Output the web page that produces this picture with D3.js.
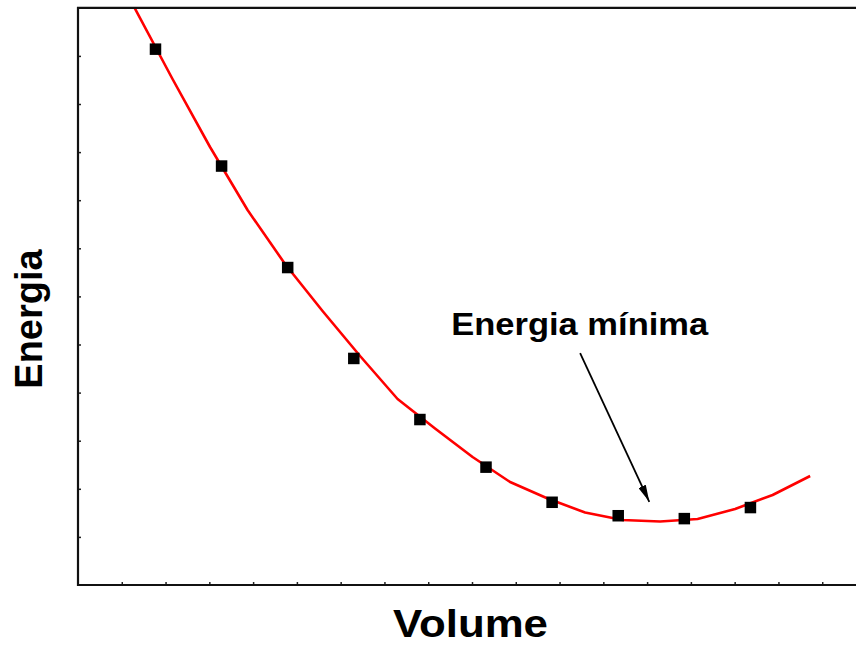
<!DOCTYPE html>
<html>
<head>
<meta charset="utf-8">
<script src="https://cdn.jsdelivr.net/npm/d3@7"></script>
<style>
  html, body { margin: 0; padding: 0; background: #fff; }
  svg { display: block; }
  text { font-family: "Liberation Sans", Arial, Helvetica, sans-serif; font-weight: bold; fill: #000; }
</style>
</head>
<body>
<svg id="chart" width="856" height="648"></svg>
<script>
// Computed energies at each cell volume (arbitrary units)
const volumes  = [1.77, 3.28, 4.79, 6.30, 7.81, 9.32, 10.83, 12.34, 13.85, 15.36];
const energies = [11.14, 8.71, 6.60, 4.71, 3.44, 2.45, 1.72, 1.44, 1.38, 1.61];

// Fitted equation-of-state curve, sampled
const fitVolumes  = [1.245, 2.159, 3.016, 3.873, 4.729, 5.586, 6.443, 7.300, 8.156, 9.013,
                     9.870, 10.727, 11.583, 12.440, 13.297, 14.153, 15.010, 15.867, 16.724];
const fitEnergies = [12.08, 10.52, 9.106, 7.796, 6.674, 5.697, 4.761, 3.867, 3.254, 2.661,
                     2.141, 1.798, 1.507, 1.351, 1.320, 1.372, 1.580, 1.871, 2.266];

// Axis extents and tick positions (unlabelled ticks)
const xDomain = [0, 18];
const yDomain = [0, 12];
const xTicks = d3.range(1, 18);
const yTicks = d3.range(1, 12);

// Annotation: label and arrow pointing at the minimum
const minLabel = "Energia mínima";
const labelPos = [11.46, 5.2];
const arrowFrom = [11.47, 4.82];
const arrowTo   = [13.05, 1.73];

const svg = d3.select("#chart");
const plotLeft = 78, plotTop = 7.8, plotBottom = 585, plotRight = 866;

const x = d3.scaleLinear().domain(xDomain).range([plotLeft, plotRight]);
const y = d3.scaleLinear().domain(yDomain).range([plotBottom, plotTop]);

const defs = svg.append("defs");
defs.append("clipPath").attr("id", "plotClip")
  .append("rect").attr("x", plotLeft).attr("y", plotTop)
  .attr("width", plotRight - plotLeft).attr("height", plotBottom - plotTop);

defs.append("marker")
  .attr("id", "arrowHead")
  .attr("viewBox", "0 0 17 8")
  .attr("refX", 17).attr("refY", 4)
  .attr("markerUnits", "userSpaceOnUse")
  .attr("markerWidth", 17).attr("markerHeight", 8)
  .attr("orient", "auto")
  .append("path").attr("d", "M0,0 L17,4 L0,8 Z").attr("fill", "#000");

// Ticks, pointing inward
const xAxis = d3.axisBottom(x).tickValues(xTicks).tickSize(-3).tickFormat("");
const yAxis = d3.axisLeft(y).tickValues(yTicks).tickSize(-3).tickFormat("");

const gx = svg.append("g").attr("transform", `translate(0,${plotBottom})`).call(xAxis);
gx.select(".domain").remove();
gx.selectAll(".tick line").attr("stroke", "#222").attr("stroke-width", 1.5);

const gy = svg.append("g").attr("transform", `translate(${plotLeft},0)`).call(yAxis);
gy.select(".domain").remove();
gy.selectAll(".tick line").attr("stroke", "#222").attr("stroke-width", 1.5);

// Fitted curve
const line = d3.line().x((d, i) => x(fitVolumes[i])).y((d, i) => y(fitEnergies[i]));
svg.append("path")
  .datum(fitVolumes)
  .attr("clip-path", "url(#plotClip)")
  .attr("d", line)
  .attr("fill", "none")
  .attr("stroke", "#ff0000")
  .attr("stroke-width", 2.6)
  .attr("stroke-linejoin", "round");

// Data points
const sq = 11.5;
svg.append("g").selectAll("rect")
  .data(volumes)
  .join("rect")
  .attr("x", (d) => x(d) - sq / 2)
  .attr("y", (d, i) => y(energies[i]) - sq / 2)
  .attr("width", sq)
  .attr("height", sq)
  .attr("fill", "#000");

// Frame (right side lies past the visible area)
svg.append("path")
  .attr("d", `M${plotRight},${plotTop} H${plotLeft} V${plotBottom} H${plotRight}`)
  .attr("fill", "none")
  .attr("stroke", "#111")
  .attr("stroke-width", 2.2);

// Annotation
svg.append("line")
  .attr("x1", x(arrowFrom[0])).attr("y1", y(arrowFrom[1]))
  .attr("x2", x(arrowTo[0])).attr("y2", y(arrowTo[1]))
  .attr("stroke", "#000").attr("stroke-width", 1.8)
  .attr("marker-end", "url(#arrowHead)");

svg.append("text")
  .attr("x", x(labelPos[0])).attr("y", y(labelPos[1]))
  .attr("text-anchor", "middle")
  .attr("font-size", 31)
  .attr("textLength", 257)
  .attr("lengthAdjust", "spacingAndGlyphs")
  .text(minLabel);

// Axis titles
svg.append("text")
  .attr("x", 470.5).attr("y", 637)
  .attr("text-anchor", "middle")
  .attr("font-size", 38)
  .attr("textLength", 155)
  .attr("lengthAdjust", "spacingAndGlyphs")
  .text("Volume");

svg.append("text")
  .attr("transform", "translate(42,319) rotate(-90)")
  .attr("text-anchor", "middle")
  .attr("font-size", 38)
  .text("Energia");
</script>
</body>
</html>
